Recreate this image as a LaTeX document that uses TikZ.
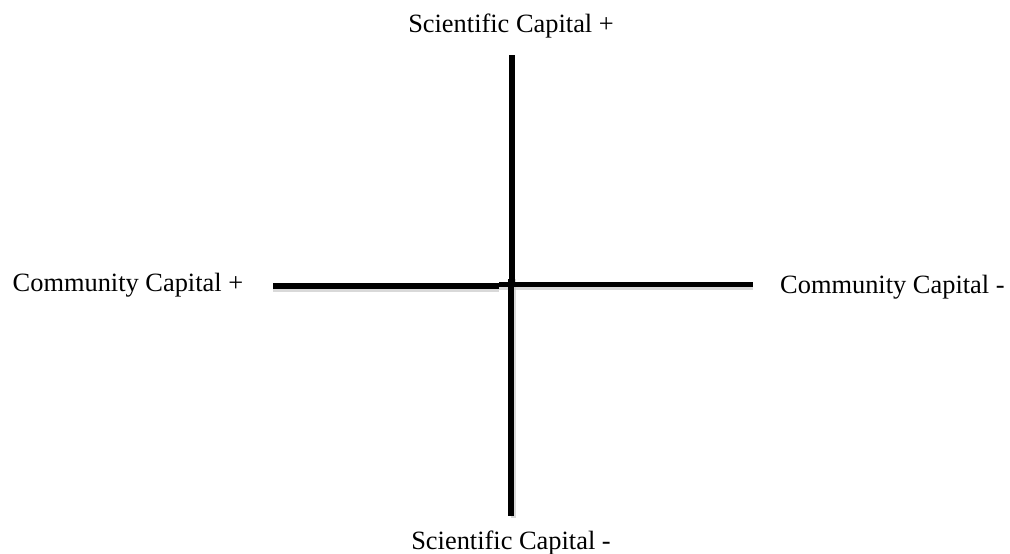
\documentclass[tikz,border=0pt]{standalone}
\usepackage{fontspec}
\setmainfont{Liberation Serif}
\begin{document}
\begin{tikzpicture}[x=1pt,y=-1pt,
  lbl/.style={inner sep=0pt,font=\fontsize{26.4}{30}\selectfont},
  axis/.style={line width=5.5pt,black},
  shade/.style={line width=5pt,black!25,opacity=0.6}]
\useasboundingbox (0,0) rectangle (1010,554);
% label nodes
\node[lbl,anchor=base] (stop) at (511,32) {Scientific Capital +};
\node[lbl,anchor=base] (sbot) at (511,549) {Scientific Capital -};
\node[lbl,anchor=base west] (cleft) at (12.5,291.7) {Community Capital +};
\node[lbl,anchor=base west] (cright) at (780,293) {Community Capital -};
% axis end points
\coordinate (vt) at (512,55);
\coordinate (vtc) at (512,285);
\coordinate (vbc) at (511,279);
\coordinate (vb) at (511,516);
\coordinate (hl) at (273,286);
\coordinate (hlc) at (499,286);
\coordinate (hrc) at (499,284.5);
\coordinate (hr) at (752.5,284.5);
% soft shadows (below the lines)
\draw[shade] ([yshift=-3]hl) -- ([yshift=-3]hlc);
\draw[shade] ([yshift=-3]hrc) -- ([yshift=-3]hr);
\draw[shade] ([xshift=2]vbc) -- ([xshift=2,yshift=-2]vb);
% axes
\draw[axis] (vt) -- (vtc);
\draw[axis] (vbc) -- (vb);
\draw[axis] (hl) -- (hlc);
\draw[axis] (hrc) -- (hr);
\end{tikzpicture}
\end{document}
